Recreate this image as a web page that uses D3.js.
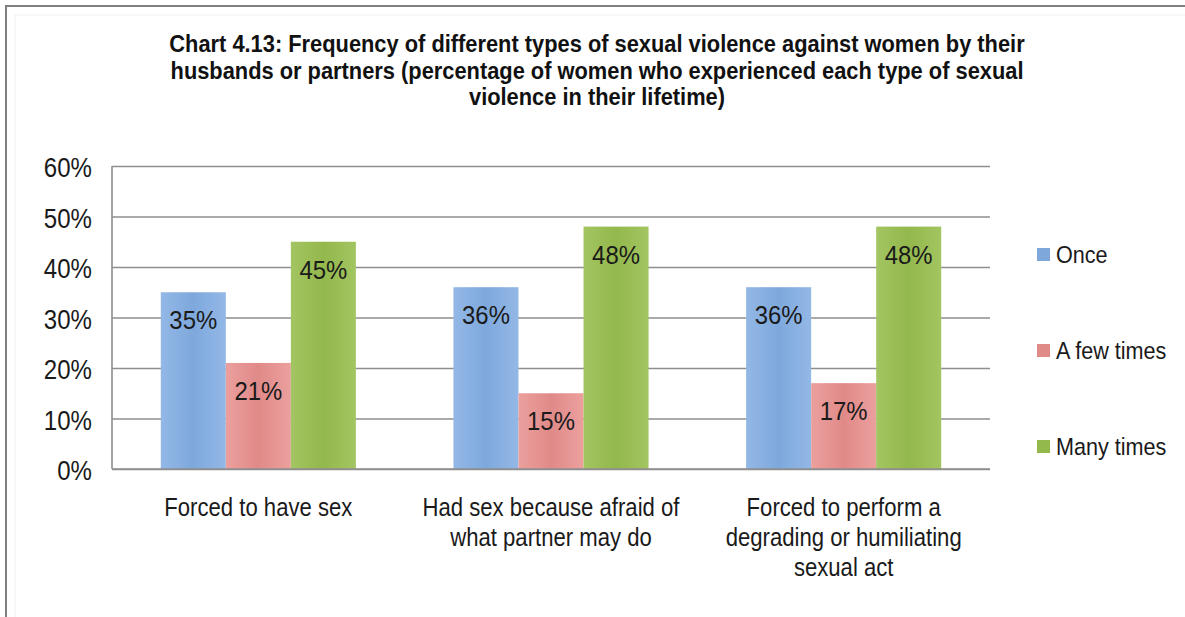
<!DOCTYPE html>
<html>
<head>
<meta charset="utf-8">
<script src="https://cdn.jsdelivr.net/npm/d3@7"></script>
<style>
  html, body { margin: 0; padding: 0; background: #fff; }
  svg { display: block; font-family: Arial, "Liberation Sans", sans-serif; }
</style>
</head>
<body>
<svg id="chart" width="1185" height="617"></svg>
<script>
// ---- data ----
const titleLines = [
  "Chart 4.13: Frequency of different types of sexual violence against women by their",
  "husbands or partners (percentage of women who experienced each type of sexual",
  "violence in their lifetime)"
];
const categories = [
  "Forced to have sex",
  "Had sex because afraid of what partner may do",
  "Forced to perform a degrading or humiliating sexual act"
];
const categoryLabelLines = [
  ["Forced to have sex"],
  ["Had sex because afraid of", "what partner may do"],
  ["Forced to perform a", "degrading or humiliating", "sexual act"]
];
const seriesNames = ["Once", "A few times", "Many times"];
const once = [0.35, 0.36, 0.36];
const aFewTimes = [0.21, 0.15, 0.17];
const manyTimes = [0.45, 0.48, 0.48];
const yTicks = [0, 0.1, 0.2, 0.3, 0.4, 0.5, 0.6];

const seriesValues = [once, aFewTimes, manyTimes];
const seriesColors = [
  ["#93b8e6", "#7ea8dc"],
  ["#eba09e", "#e08a88"],
  ["#a3c562", "#93b84c"]
];

// ---- layout ----
const svg = d3.select("#chart");
const plot = { left: 112, right: 990, top: 166, bottom: 469 };
const sx = 0.85; // horizontal condensing applied to text

// outer frame
svg.append("rect").attr("x", 6).attr("y", 6).attr("width", 1300).attr("height", 800)
  .attr("fill", "#fff").attr("stroke", "#7f7f7f").attr("stroke-width", 2);
svg.append("rect").attr("x", 15).attr("y", 15).attr("width", 1300).attr("height", 800)
  .attr("fill", "none").attr("stroke", "#f0f0f0").attr("stroke-width", 1);

// gradients for bars
const defs = svg.append("defs");
seriesColors.forEach((c, i) => {
  const g = defs.append("linearGradient").attr("id", "grad" + i)
    .attr("x1", "0%").attr("x2", "100%").attr("y1", "0%").attr("y2", "0%");
  g.append("stop").attr("offset", "0%").attr("stop-color", c[0]);
  g.append("stop").attr("offset", "50%").attr("stop-color", c[1]);
  g.append("stop").attr("offset", "100%").attr("stop-color", c[0]);
});

function condensedText(sel, x, y, txt, opts) {
  const t = sel.append("text")
    .attr("transform", `translate(${x},${y}) scale(${opts.sx || sx},1)`)
    .attr("text-anchor", opts.anchor || "middle")
    .attr("font-size", opts.size)
    .attr("font-weight", opts.weight || "normal")
    .attr("fill", opts.fill || "#1a1a1a")
    .text(txt);
  if (opts.dy) t.attr("dy", opts.dy);
  return t;
}

// title
const titleBaselines = [52, 78.5, 105];
titleLines.forEach((line, i) => {
  condensedText(svg, 597, titleBaselines[i], line,
    { size: 24, weight: "bold", sx: 0.91, fill: "#111" });
});

// scales
const x0 = d3.scaleBand().domain(categories).range([plot.left, plot.right])
  .paddingInner(0).paddingOuter(0);
const x1 = d3.scaleBand().domain(seriesNames).range([0, x0.bandwidth()])
  .paddingInner(0).paddingOuter(0.75);
const y = d3.scaleLinear().domain([0, 0.6]).range([plot.bottom, plot.top]);

// gridlines + tick labels
const yAxis = d3.axisLeft(y).tickValues(yTicks).tickFormat(d3.format(".0%"))
  .tickSize(-(plot.right - plot.left)).tickPadding(0);
const gy = svg.append("g").attr("transform", `translate(${plot.left},0)`).call(yAxis);
gy.select(".domain").remove();
gy.selectAll(".tick line").attr("stroke", "#8e8e8e").attr("stroke-width", 1.6);
gy.selectAll(".tick text")
  .attr("x", null).attr("dy", "0.35em")
  .attr("transform", `translate(-20,1) scale(0.86,1)`)
  .attr("font-size", 28).attr("fill", "#1a1a1a")
  .attr("font-family", "Arial, 'Liberation Sans', sans-serif");

// left axis line
svg.append("line").attr("x1", plot.left).attr("x2", plot.left)
  .attr("y1", plot.top).attr("y2", plot.bottom)
  .attr("stroke", "#8e8e8e").attr("stroke-width", 1.6);

// bars with value labels
const groups = svg.append("g").selectAll("g").data(categories).join("g")
  .attr("transform", d => `translate(${x0(d)},0)`);

groups.each(function (cat, ci) {
  const g = d3.select(this);
  seriesNames.forEach((s, si) => {
    const v = seriesValues[si][ci];
    g.append("rect")
      .attr("x", x1(s)).attr("width", x1.bandwidth())
      .attr("y", y(v)).attr("height", y(0) - y(v))
      .attr("fill", `url(#grad${si})`);
    condensedText(g, x1(s) + x1.bandwidth() / 2, y(v) + 37, d3.format(".0%")(v),
      { size: 26, sx: 0.92, fill: "#1a1a1a" });
  });
});

// baseline drawn over bars
svg.append("line").attr("x1", plot.left).attr("x2", plot.right)
  .attr("y1", y(0)).attr("y2", y(0))
  .attr("stroke", "#8e8e8e").attr("stroke-width", 1.6);

// category labels
categories.forEach((cat, ci) => {
  const cx = x0(cat) + x0.bandwidth() / 2;
  categoryLabelLines[ci].forEach((line, li) => {
    condensedText(svg, cx, 516 + li * 30, line, { size: 25, sx: 0.885, fill: "#1a1a1a" });
  });
});

// legend
const legendY = [255, 351, 447];
seriesNames.forEach((s, si) => {
  svg.append("rect").attr("x", 1037).attr("y", legendY[si] - 7)
    .attr("width", 13).attr("height", 13).attr("fill", seriesColors[si][1]);
  condensedText(svg, 1056, legendY[si], s,
    { size: 24, sx: 0.9, anchor: "start", dy: "0.35em", fill: "#1a1a1a" });
});
</script>
</body>
</html>
